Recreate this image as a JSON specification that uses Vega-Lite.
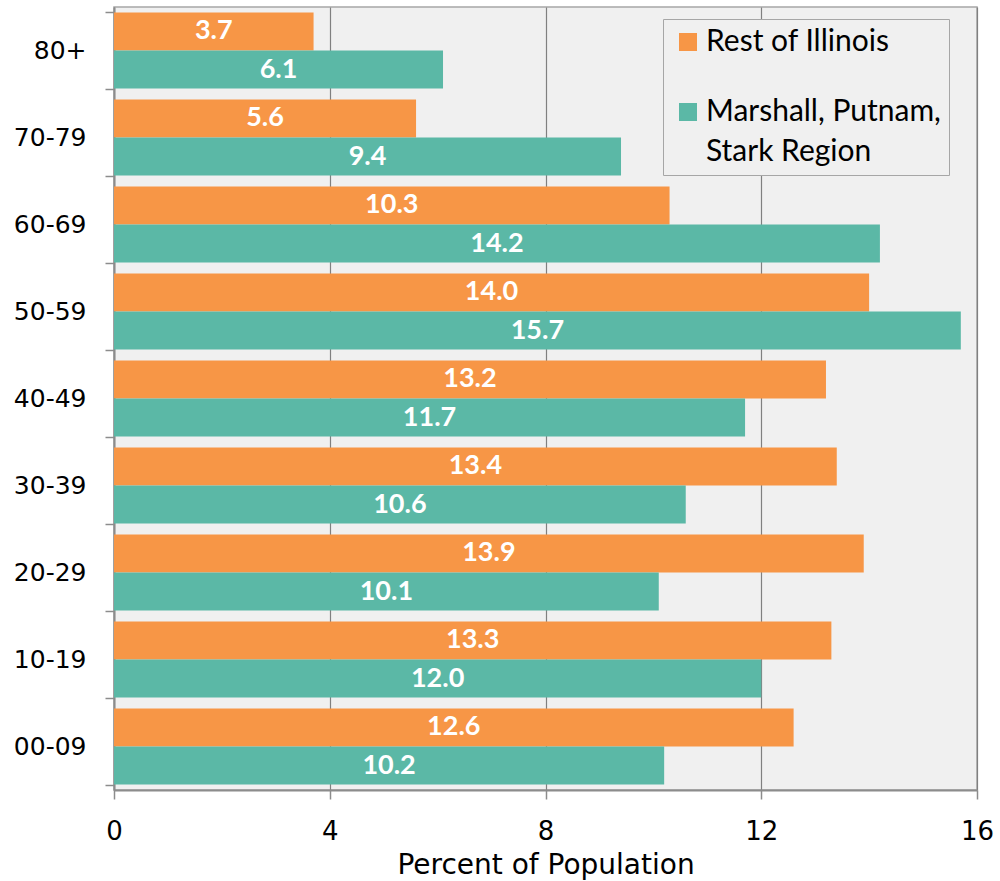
{
  "$schema": "https://vega.github.io/schema/vega-lite/v6.json",
  "width": 863,
  "height": 783,
  "autosize": {"type": "none"},
  "padding": {"left": 114, "top": 7, "right": 23, "bottom": 91},
  "background": "white",
  "config": {
    "view": {"fill": "#f0f0f0", "stroke": "#a6a6a6", "strokeWidth": 1.5},
    "font": "DejaVu Sans"
  },
  "data": {
    "values": [
      {"age": "80+", "series": "Rest of Illinois", "pct": 3.7},
      {"age": "80+", "series": "Marshall, Putnam, Stark Region", "pct": 6.1},
      {"age": "70-79", "series": "Rest of Illinois", "pct": 5.6},
      {"age": "70-79", "series": "Marshall, Putnam, Stark Region", "pct": 9.4},
      {"age": "60-69", "series": "Rest of Illinois", "pct": 10.3},
      {"age": "60-69", "series": "Marshall, Putnam, Stark Region", "pct": 14.2},
      {"age": "50-59", "series": "Rest of Illinois", "pct": 14.0},
      {"age": "50-59", "series": "Marshall, Putnam, Stark Region", "pct": 15.7},
      {"age": "40-49", "series": "Rest of Illinois", "pct": 13.2},
      {"age": "40-49", "series": "Marshall, Putnam, Stark Region", "pct": 11.7},
      {"age": "30-39", "series": "Rest of Illinois", "pct": 13.4},
      {"age": "30-39", "series": "Marshall, Putnam, Stark Region", "pct": 10.6},
      {"age": "20-29", "series": "Rest of Illinois", "pct": 13.9},
      {"age": "20-29", "series": "Marshall, Putnam, Stark Region", "pct": 10.1},
      {"age": "10-19", "series": "Rest of Illinois", "pct": 13.3},
      {"age": "10-19", "series": "Marshall, Putnam, Stark Region", "pct": 12.0},
      {"age": "00-09", "series": "Rest of Illinois", "pct": 12.6},
      {"age": "00-09", "series": "Marshall, Putnam, Stark Region", "pct": 10.2}
    ]
  },
  "encoding": {
    "y": {
      "field": "age",
      "type": "nominal",
      "sort": ["80+", "70-79", "60-69", "50-59", "40-49", "30-39", "20-29", "10-19", "00-09"],
      "scale": {"paddingInner": 0.126, "paddingOuter": 0.063},
      "axis": {
        "title": null,
        "grid": false,
        "domainColor": "#8c8c8c",
        "domainWidth": 2,
        "tickColor": "#8c8c8c",
        "tickWidth": 1.5,
        "tickSize": 9,
        "tickBand": "extent",
        "labelFont": "DejaVu Sans",
        "labelFontSize": 25,
        "labelColor": "black",
        "labelPadding": 19
      }
    },
    "yOffset": {
      "field": "series",
      "type": "nominal",
      "sort": ["Rest of Illinois", "Marshall, Putnam, Stark Region"],
      "scale": {"paddingInner": 0, "paddingOuter": 0}
    }
  },
  "layer": [
    {
      "mark": {"type": "bar"},
      "encoding": {
        "x": {
          "field": "pct",
          "type": "quantitative",
          "scale": {"domain": [0, 16], "nice": false},
          "axis": {
            "title": "Percent of Population",
            "values": [0, 4, 8, 12, 16],
            "grid": true,
            "gridColor": "#808080",
            "gridWidth": 1.2,
            "domainColor": "#8c8c8c",
            "domainWidth": 2,
            "tickColor": "#8c8c8c",
            "tickWidth": 1.5,
            "tickSize": 9,
            "labelFlush": false,
            "labelOverlap": false,
            "labelFont": "DejaVu Sans",
            "labelFontSize": 26,
            "labelColor": "black",
            "labelPadding": 19,
            "titleFont": "DejaVu Sans",
            "titleFontSize": 28,
            "titleFontWeight": "normal",
            "titleColor": "black",
            "titlePadding": 7
          }
        },
        "color": {
          "field": "series",
          "type": "nominal",
          "scale": {
            "domain": ["Rest of Illinois", "Marshall, Putnam, Stark Region"],
            "range": ["#f79646", "#5bb8a6"]
          },
          "legend": {
            "orient": "none",
            "legendX": 549,
            "legendY": 12,
            "title": null,
            "symbolType": "square",
            "symbolSize": 324,
            "symbolStrokeWidth": 0,
            "symbolOffset": 2,
            "labelFont": "Lato",
            "labelFontSize": 30,
            "labelColor": "black",
            "labelLimit": 400,
            "labelOffset": 3,
            "labelExpr": "datum.value == 'Marshall, Putnam, Stark Region' ? ['Marshall, Putnam,', 'Stark Region'] : datum.label",
            "rowPadding": 40,
            "padding": 8,
            "fillColor": "#f0f0f0",
            "strokeColor": "#a6a6a6",
            "encode": {
              "labels": {"update": {"lineHeight": {"value": 40}}}
            }
          }
        }
      }
    },
    {
      "mark": {"type": "text", "font": "Lato", "fontWeight": "bold", "fontSize": 27, "color": "white"},
      "encoding": {
        "x": {
          "field": "pct",
          "type": "quantitative",
          "scale": {"domain": [0, 32], "nice": false},
          "axis": null
        },
        "text": {"field": "pct", "type": "quantitative", "format": ".1f"}
      }
    }
  ],
  "resolve": {"scale": {"x": "independent"}}
}
